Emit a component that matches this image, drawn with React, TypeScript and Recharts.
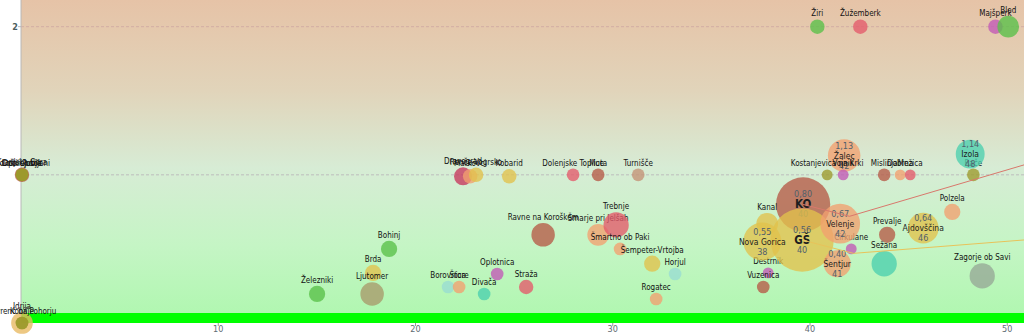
import { ComposedChart, Scatter, XAxis, YAxis, ZAxis, ReferenceArea, ReferenceLine } from "recharts";

// name, x, y, weight (bubble area, ~ r^2), group
type Town = [string, number, number, number, string];

const TOWNS: Town[] = [
  // bottom row, x = 0
  ["Idrija", 0.05, 0, 144, "sand"],
  ["Kobilje", 0.05, 0, 49, "olive"],
  ["Lovrenc na Pohorju", 0.05, 0, 49, "olive"],
  // x = 0, y = 1
  ["Kranjska Gora", 0.05, 1, 64, "brown"],
  ["Loški Potok", 0.05, 1, 49, "olive"],
  ["Dobrepolje", 0.05, 1, 49, "olive"],
  ["Dol pri Ljubljani", 0.05, 1, 49, "olive"],
  // top row
  ["Žiri", 40.37, 2, 64, "green"],
  ["Žužemberk", 42.55, 2, 64, "red"],
  ["Majšperk", 49.4, 2, 64, "purple"],
  ["Bled", 50.05, 2, 144, "green"],
  // y = 1 row
  ["Dravograd", 22.41, 0.99, 100, "crimson"],
  ["Markovci", 22.77, 0.99, 64, "salmon"],
  ["Renče-Vogrsko", 23.07, 1.0, 64, "yellow"],
  ["Kobarid", 24.75, 0.99, 64, "yellow"],
  ["Dolenjske Toplice", 27.99, 1.0, 49, "red"],
  ["Muta", 29.26, 1.0, 49, "brown"],
  ["Turnišče", 31.29, 1.0, 49, "tan"],
  ["Žalec", 41.73, 1.13, 324, "salmon"],
  ["Kostanjevica na Krki", 40.87, 1.0, 36, "olive"],
  ["Vojnik", 41.68, 1.0, 36, "purple"],
  ["Mislinja", 43.76, 1.0, 49, "brown"],
  ["Dobrna", 44.57, 1.0, 36, "salmon"],
  ["Mežica", 45.08, 1.0, 36, "red"],
  ["Rače", 48.28, 1.0, 49, "olive"],
  ["Izola", 48.12, 1.14, 256, "teal"],
  // middle
  ["Železniki", 15.01, 0.196, 81, "green"],
  ["Bohinj", 18.66, 0.5, 81, "green"],
  ["Brda", 17.85, 0.338, 81, "yellow"],
  ["Ljutomer", 17.8, 0.196, 169, "khaki"],
  ["Borovnica", 21.65, 0.243, 49, "lightteal"],
  ["Štore", 22.21, 0.243, 49, "salmon"],
  ["Divača", 23.48, 0.196, 49, "teal"],
  ["Oplotnica", 24.14, 0.331, 49, "purple"],
  ["Straža", 25.61, 0.243, 64, "red"],
  ["Ravne na Koroškem", 26.47, 0.595, 169, "brown"],
  ["Šmarje pri Jelšah", 29.26, 0.595, 144, "salmon"],
  ["Trebnje", 30.17, 0.662, 196, "red"],
  ["Šmartno ob Paki", 30.37, 0.5, 49, "salmon"],
  ["Šempeter-Vrtojba", 32.0, 0.4, 81, "yellow"],
  ["Horjul", 33.16, 0.331, 49, "lightteal"],
  ["Rogatec", 32.2, 0.162, 49, "salmon"],
  ["KO", 39.65, 0.8, 900, "brown"],
  ["Kanal", 37.83, 0.67, 144, "yellow"],
  ["Destrnik", 37.88, 0.338, 36, "purple"],
  ["Vuzenica", 37.63, 0.243, 49, "brown"],
  ["GŠ", 39.6, 0.56, 1225, "yellow"],
  ["Nova Gorica", 37.58, 0.55, 441, "yellow"],
  ["Cirkulane", 42.09, 0.5, 36, "purple"],
  ["Velenje", 41.53, 0.67, 484, "salmon"],
  ["Šentjur", 41.38, 0.4, 225, "salmon"],
  ["Prevalje", 43.91, 0.595, 81, "brown"],
  ["Sežana", 43.76, 0.4, 196, "teal"],
  ["Ajdovščina", 45.74, 0.64, 289, "yellow"],
  ["Polzela", 47.21, 0.75, 81, "salmon"],
  ["Zagorje ob Savi", 48.73, 0.318, 196, "grey"],
];

// towns whose value block is printed inside the bubble
const FEATURED = ["KO", "GŠ", "Nova Gorica", "Velenje", "Šentjur", "Ajdovščina", "Žalec", "Izola"];

const RED_LINK = [
  { x: 39.65, y: 0.8 },
  { x: 42.0, y: 0.72 },
  { x: 51, y: 1.073 },
];
const YELLOW_LINK = [
  { x: 39.6, y: 0.56 },
  { x: 42.2, y: 0.47 },
  { x: 51, y: 0.562 },
];

const X_TICKS = [10, 20, 30, 40, 50];
const Y_TICKS = [2];

const COLORS: Record<string, string> = {
  green: "#58c048",
  red: "#e45a6a",
  purple: "#c258b6",
  yellow: "#e2c24c",
  salmon: "#f2a070",
  brown: "#b65a46",
  crimson: "#c6365c",
  teal: "#4ccfae",
  lightteal: "#98dcd2",
  olive: "#9c9a2c",
  grey: "#96a896",
  khaki: "#a89a6a",
  tan: "#c49276",
  sand: "#e8b860",
};

const FONT = "'DejaVu Sans Condensed', 'DejaVu Sans', sans-serif";

const data = TOWNS.map(([name, x, y, w, group]) => ({ name, x, y, w, group }));

const fmt = (v: number) => v.toFixed(2).replace(".", ",");

function Bubble(props: any) {
  const { cx, cy, payload } = props;
  if (cx == null || cy == null) return <g />;
  const r = props.width ? props.width / 2 : Math.sqrt(payload.w);
  const featured = FEATURED.includes(payload.name);
  return (
    <g>
      <circle cx={cx} cy={cy} r={r} fill={COLORS[payload.group]} fillOpacity={0.78} />
      {featured ? (
        <g fontFamily={FONT} textAnchor="middle" dominantBaseline="central">
          <text x={cx} y={cy - 10} fontSize={9} fill="#51606c">
            {fmt(payload.y)}
          </text>
          <text
            x={cx}
            y={cy}
            fontSize={payload.name.length < 3 ? 11.5 : 8.5}
            fontWeight={payload.name.length < 3 ? 700 : 400}
            fill="#1e1e1e"
          >
            {payload.name}
          </text>
          <text x={cx} y={cy + 10} fontSize={9} fill="#51606c">
            {Math.round(payload.x)}
          </text>
        </g>
      ) : (
        <text x={cx} y={cy - r - 3} fontSize={8} fontFamily={FONT} textAnchor="middle" fill="#121212">
          {payload.name}
        </text>
      )}
    </g>
  );
}

export default function App() {
  return (
    <div style={{ position: "absolute", left: 0, top: 0, width: 1024, height: 336, overflow: "hidden", background: "#fff" }}>
      <ComposedChart width={1027} height={336} margin={{ top: 0, right: 0, bottom: 0, left: 0 }}>
        <defs>
          <linearGradient id="bgGrad" x1="0" y1="0" x2="0" y2="1">
            <stop offset="0%" stopColor="#e6c3a7" />
            <stop offset="28%" stopColor="#e1d4ba" />
            <stop offset="52%" stopColor="#d7ecd5" />
            <stop offset="76%" stopColor="#c5f5c5" />
            <stop offset="100%" stopColor="#aef7ae" />
          </linearGradient>
        </defs>
        <XAxis
          type="number"
          dataKey="x"
          domain={[0, 51]}
          ticks={X_TICKS}
          height={13}
          axisLine={false}
          tickSize={3}
          tickMargin={0}
          tickLine={{ stroke: "#999" }}
          tick={{ fontSize: 9, fill: "#5f6b73", fontFamily: FONT }}
        />
        <YAxis
          type="number"
          dataKey="y"
          domain={[0, 2.18]}
          ticks={Y_TICKS}
          width={21}
          axisLine={{ stroke: "#b8b8b8" }}
          tickSize={3}
          tickMargin={0}
          tickLine={{ stroke: "#b8b8b8" }}
          tick={{ fontSize: 9, fill: "#4d5e5e", fontWeight: 700, fontFamily: FONT }}
        />
        <ZAxis type="number" dataKey="w" domain={[0, 1000]} range={[0, 1000 * Math.PI]} />
        <ReferenceArea y1={0} y2={2.18} fill="url(#bgGrad)" fillOpacity={1} stroke="none" />
        <ReferenceArea y1={0} y2={0.068} fill="#00ff00" fillOpacity={1} stroke="none" />
        <ReferenceLine y={2} stroke="#d2aea4" strokeDasharray="3 2" />
        <ReferenceLine y={1} stroke="#bcbcbc" strokeDasharray="3 2" />
        <Scatter data={data} shape={Bubble} isAnimationActive={false} legendType="none" />
        <Scatter
          data={RED_LINK}
          line={{ stroke: "#d9786c", strokeWidth: 1 }}
          lineType="joint"
          shape={() => <g />}
          isAnimationActive={false}
          legendType="none"
        />
        <Scatter
          data={YELLOW_LINK}
          line={{ stroke: "#e8c35a", strokeWidth: 1 }}
          lineType="joint"
          shape={() => <g />}
          isAnimationActive={false}
          legendType="none"
        />
      </ComposedChart>
    </div>
  );
}
